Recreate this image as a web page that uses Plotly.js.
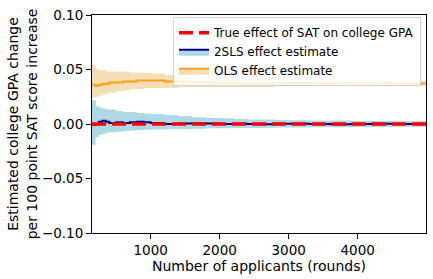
<!DOCTYPE html>
<html>
<head>
<meta charset="utf-8">
<script src="https://cdn.plot.ly/plotly-3.0.1.min.js"></script>
<style>html,body{margin:0;padding:0;background:#fff;}#chart{width:433px;height:279px;}</style>
</head>
<body>
<div id="chart"></div>
<script>
// Number of applicants (rounds)
const rounds = [150,200,250,300,350,400,500,600,700,800,900,1000,1200,1400,1600,1800,2000,2200,2400,2600,2800,3000,3300,3600,3900,4200,4500,4800,4990];

// OLS effect estimate and its band
const olsMean  = [0.036,0.035,0.036,0.037,0.037,0.038,0.038,0.039,0.039,0.040,0.040,0.040,0.039,0.039,0.0385,0.0378,0.0376,0.0375,0.0373,0.0375,0.0376,0.0376,0.0374,0.0373,0.0372,0.0373,0.0372,0.0372,0.0372];
const olsUpper = [0.054,0.050,0.049,0.049,0.048,0.048,0.048,0.048,0.047,0.047,0.047,0.046,0.045,0.044,0.043,0.042,0.042,0.041,0.041,0.041,0.041,0.040,0.040,0.040,0.040,0.0395,0.0395,0.0395,0.0395];
const olsLower = [0.024,0.025,0.026,0.027,0.028,0.029,0.030,0.031,0.032,0.032,0.033,0.033,0.033,0.034,0.034,0.034,0.034,0.034,0.034,0.034,0.035,0.035,0.035,0.035,0.035,0.035,0.035,0.035,0.035];

// 2SLS effect estimate and its band
const tslsMean  = [-0.001,0.000,0.002,0.003,0.002,0.001,0.0015,0.001,0.0015,0.002,0.0015,0.001,0.000,0.0005,0.0008,0.0005,0.000,0.0003,0.000,-0.0003,0.0002,0.0003,0.0,-0.0002,0.0,0.0002,0.0001,0.0,0.0];
const tslsUpper = [0.022,0.016,0.015,0.014,0.013,0.013,0.012,0.011,0.011,0.010,0.0095,0.009,0.008,0.007,0.006,0.0055,0.005,0.0045,0.004,0.0038,0.0035,0.0033,0.003,0.003,0.0028,0.0027,0.0026,0.0025,0.0025];
const tslsLower = [-0.019,-0.012,-0.010,-0.009,-0.008,-0.0075,-0.007,-0.0065,-0.006,-0.0055,-0.0052,-0.005,-0.0048,-0.0045,-0.0043,-0.004,-0.0038,-0.0037,-0.0036,-0.0035,-0.0033,-0.0031,-0.003,-0.0029,-0.0028,-0.0027,-0.0026,-0.0025,-0.0025];

// True effect
const trueEffect = 0.0;
const xRange = [150, 4990];

const yTicks = [-0.10,-0.05,0.00,0.05,0.10];
const xTicks = [1000,2000,3000,4000];

const blueFill = '#ADD8E6', wheatFill = '#F5DEB3';
const blueLine = '#00008B', orangeLine = '#FF9F1A';

const traces = [
  {x: rounds, y: olsLower, mode:'lines', line:{width:0, shape:'hv'}, showlegend:false, hoverinfo:'skip'},
  {x: rounds, y: olsUpper, mode:'lines', fill:'tonexty', fillcolor:wheatFill, line:{width:0, shape:'hv'}, showlegend:false, hoverinfo:'skip'},
  {x: rounds, y: olsMean, mode:'lines', name:'OLS effect estimate', fill:'tonexty', fillcolor:wheatFill, line:{color:orangeLine, width:2, shape:'hv'}, legendrank:3},
  {x: rounds, y: tslsLower, mode:'lines', line:{width:0, shape:'hv'}, showlegend:false, hoverinfo:'skip'},
  {x: rounds, y: tslsUpper, mode:'lines', fill:'tonexty', fillcolor:blueFill, line:{width:0, shape:'hv'}, showlegend:false, hoverinfo:'skip'},
  {x: rounds, y: tslsMean, mode:'lines', name:'2SLS effect estimate', fill:'tonexty', fillcolor:blueFill, line:{color:blueLine, width:2, shape:'hv'}, legendrank:2},
  {x: xRange, y: [trueEffect, trueEffect], mode:'lines', name:'True effect of SAT on college GPA', line:{color:'red', width:3.5, dash:'14px,6px'}, showlegend:true, legendrank:1}
];

const tickFont = {family:'DejaVu Sans, sans-serif', size:13.5, color:'#000'};
const titleFont = {family:'DejaVu Sans, sans-serif', size:14, color:'#000'};

const layout = {
  width:433, height:279,
  margin:{l:92, r:7, t:15, b:46},
  paper_bgcolor:'#fff', plot_bgcolor:'#fff',
  font: titleFont,
  showlegend:true,
  legend:{x:0.985, y:0.99, xanchor:'right', yanchor:'top', traceorder:'normal', bgcolor:'rgba(255,255,255,0.85)', bordercolor:'#d0d0d0', borderwidth:1, font:{family:'DejaVu Sans, sans-serif', size:12, color:'#000'}, tracegroupgap:0, itemwidth:30},
  xaxis:{range:xRange, tickvals:xTicks, ticks:'outside', ticklen:5, tickwidth:1, tickcolor:'#000', showline:true, linecolor:'#000', linewidth:1, mirror:true, showgrid:false, zeroline:false,
    tickfont:tickFont, title:{text:'Number of applicants (rounds)', font:titleFont, standoff:0}, automargin:false},
  yaxis:{range:[-0.10,0.10], tickvals:yTicks, tickformat:'.2f', ticks:'outside', ticklen:5, tickwidth:1, tickcolor:'#000', showline:true, linecolor:'#000', linewidth:1, mirror:true, showgrid:false, zeroline:false,
    tickfont:tickFont, title:{text:'Estimated college GPA change<br>per 100 point SAT score increase', font:titleFont, standoff:1}, automargin:false}
};

Plotly.newPlot('chart', traces, layout, {staticPlot:true, displayModeBar:false});
</script>
</body>
</html>
